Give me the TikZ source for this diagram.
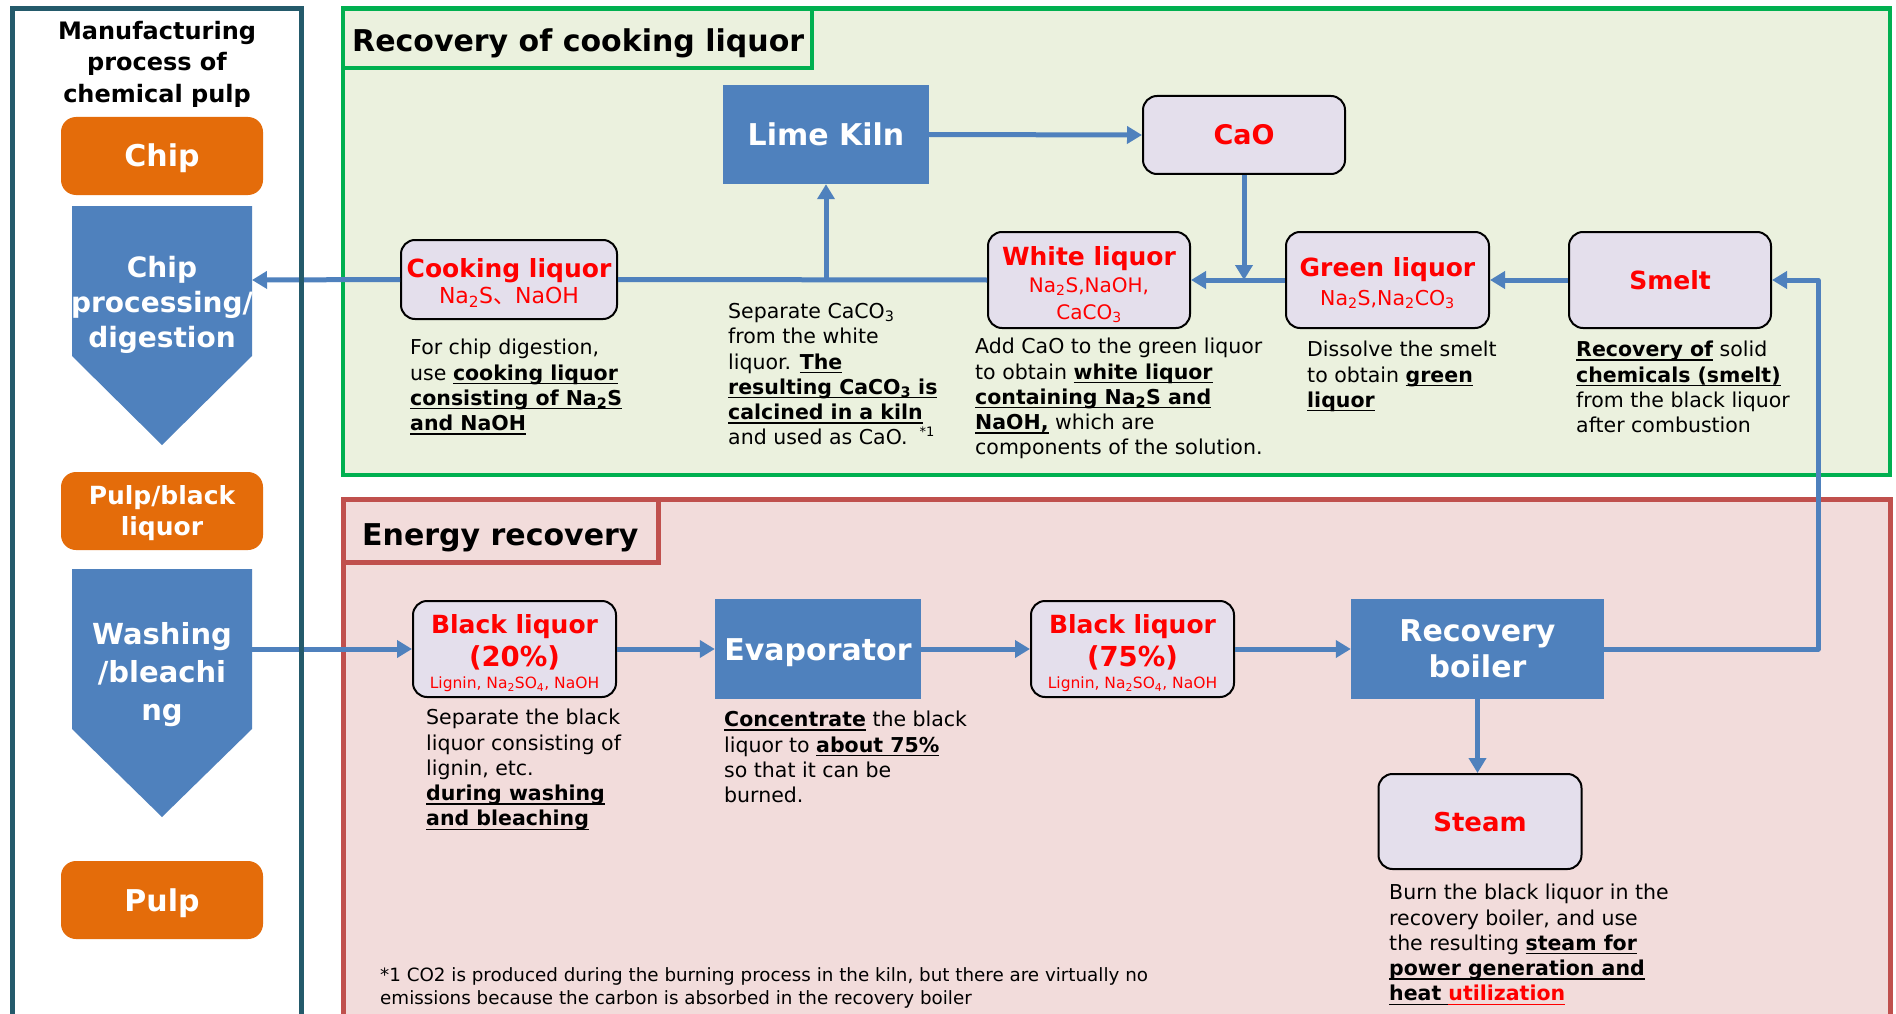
\documentclass[tikz,border=0pt]{standalone}
\usepackage{fontspec}
\setmainfont{DejaVu Sans}
\newfontfamily\cjkf{Noto Sans CJK JP}
\usetikzlibrary{arrows.meta}
\definecolor{blueA}{HTML}{4F81BD}
\definecolor{orangeA}{HTML}{E46C0A}
\definecolor{tealA}{HTML}{245A6B}
\definecolor{greenA}{HTML}{00B050}
\definecolor{greenF}{HTML}{EBF1DE}
\definecolor{redA}{HTML}{C0504D}
\definecolor{redF}{HTML}{F2DCDB}
\definecolor{lav}{HTML}{E4DFEC}
\definecolor{txtred}{HTML}{FF0000}
\newsavebox\ulbox
\newcommand\uln[1]{\sbox\ulbox{#1}\rlap{\rule[-4pt]{\wd\ulbox}{1.4pt}}\usebox\ulbox}
\newcommand\fsz[2]{\fontsize{#1}{#2}\selectfont}
\newcommand\sth[1]{\rule{0pt}{#1pt}}
\newcommand\std[1]{\rule[-#1pt]{0pt}{#1pt}}
\tikzset{
  ora/.style={fill=orangeA, rounded corners=15pt, minimum width=202pt, minimum height=78pt,
    text=white, font=\bfseries\fsz{30}{36}, align=center, inner sep=0pt},
  arrtxt/.style={text=white, align=center, inner sep=0pt},
  blu/.style={fill=blueA, text=white, font=\bfseries\fsz{30}{36}, align=center, inner sep=0pt,
    minimum height=100pt},
  liq/.style={draw=black, line width=2pt, fill=lav, rounded corners=14pt, text=txtred,
    align=center, inner sep=0pt, minimum width=202pt, minimum height=96pt, font=\fsz{25}{28}},
  desc/.style={anchor=north west, align=left, inner sep=0pt, font=\fsz{20.5}{25.3}, text=black},
  conn/.style={draw=blueA, line width=5pt, line join=round, -{Triangle[length=15pt,width=17pt]}},
  plainconn/.style={draw=blueA, line width=5pt},
  paneltitle/.style={anchor=base west, inner sep=0pt, font=\bfseries\fsz{30}{36}, text=black}
}
\begin{document}
\begin{tikzpicture}[x=1pt,y=-1pt]
\useasboundingbox (0,0) rectangle (1896,1014);
\clip (0,0) rectangle (1896,1014);
\fill[white] (0,0) rectangle (1896,1014);

% panels
\draw[greenA, line width=4.5pt, fill=greenF] (343,8.5) rectangle (1890,475);
\draw[greenA, line width=4.5pt] (343,8.5) rectangle (812,68);
\node[paneltitle] (ttlgreen) at (352,52) {Recovery of cooking liquor};
\draw[redA, line width=5pt, fill=redF] (343,499) rectangle (1890,1040);
\draw[redA, line width=5pt] (343,499) rectangle (658,562);
\node[paneltitle] (ttlred) at (362,545) {Energy recovery};

% left column
\node[anchor=north, align=center, inner sep=0pt, font=\bfseries\fsz{24}{31.5}] (ttlleft) at (157,21) {Manufacturing\\process of\\chemical pulp};
\node[ora, text height=22pt, text depth=0pt] (chip) at (162,156) {Chip};
\fill[blueA] (72,206) -- (252,206) -- (252,356) -- (162,445) -- (72,356) -- cycle;
\node[arrtxt, font=\bfseries\fsz{28}{35}] (chipproc) at (162,305) {Chip\\processing/\\digestion};
\node[ora, font=\bfseries\fsz{25}{31}] (pbl) at (162,511) {\sth{24}Pulp/black\\liquor\std{6}};
\fill[blueA] (72,569) -- (252,569) -- (252,729) -- (162,817) -- (72,729) -- cycle;
\node[arrtxt, font=\bfseries\fsz{29}{38}] (washing) at (162,675) {Washing\\/bleachi\\ng};
\node[ora, text height=22pt, text depth=0pt] (pulp) at (162,900) {Pulp};
\coordinate (chipR) at (252,280);
\coordinate (washR) at (252,649);

% cooking liquor recovery nodes
\node[blu, minimum width=206pt, minimum height=99pt, text height=22pt, text depth=0pt] (kiln) at (826,134.5) {Lime Kiln};
\node[liq, minimum height=78pt, font=\bfseries\fsz{27}{30}, text height=19.7pt, text depth=0pt] (cao) at (1244,135) {CaO};
\node[liq, minimum width=216pt, minimum height=79pt, font=\fsz{25}{26}] (cook) at (509,279.5)
  {\sth{27}{\bfseries Cooking liquor}\\{\fsz{22}{22}Na\textsubscript{2}S{\cjkf 、}NaOH}\std{6}};
\node[liq, font=\fsz{25}{27}] (white) at (1089,280)
  {\sth{31}{\bfseries White liquor}\\{\fsz{20}{22}Na\textsubscript{2}S,NaOH,}\\{\fsz{20}{22}CaCO\textsubscript{3}}\std{6}};
\node[liq, minimum width=203pt, font=\fsz{25}{28.5}] (green) at (1387.5,280)
  {\sth{27.5}{\bfseries Green liquor}\\{\fsz{20.5}{22}Na\textsubscript{2}S,Na\textsubscript{2}CO\textsubscript{3}}\std{6}};
\node[liq, font=\bfseries\fsz{25}{30}, text height=18.2pt, text depth=0pt] (smelt) at (1670,280) {Smelt};

% energy recovery nodes
\node[liq, minimum width=203pt, font=\fsz{25}{32.5}] (bl20) at (514.5,649)
  {\sth{29}{\bfseries Black liquor}\\{\bfseries\fsz{27.5}{30}(20\%)}\\[-10pt]{\fsz{15.5}{18}Lignin, Na\textsubscript{2}SO\textsubscript{4}, NaOH}\std{5}};
\node[blu, minimum width=206pt, text height=22pt, text depth=0pt] (evap) at (818,649) {Evaporator};
\node[liq, minimum width=203pt, font=\fsz{25}{32.5}] (bl75) at (1132.5,649)
  {\sth{29}{\bfseries Black liquor}\\{\bfseries\fsz{27.5}{30}(75\%)}\\[-10pt]{\fsz{15.5}{18}Lignin, Na\textsubscript{2}SO\textsubscript{4}, NaOH}\std{5}};
\node[blu, minimum width=253pt] (boiler) at (1477.5,649) {Recovery\\boiler};
\node[liq, minimum width=203pt, minimum height=95pt, font=\bfseries\fsz{26}{30}, text height=19pt, text depth=0pt] (steam) at (1480,821.5) {Steam};
\coordinate (jkiln) at (826,280);
\coordinate (jcao) at (1244,280);
\coordinate (r1) at (1818,649);
\coordinate (r2) at (1818,280);

% connectors
\draw[conn] (cook.west) -- (chipR);
\draw[plainconn] (cook.east) -- (white.west);
\draw[conn] (jkiln) -- (kiln.south);
\draw[conn] (kiln.east) -- (cao.west);
\draw[conn] (cao.south) -- (jcao);
\draw[conn] (green.west) -- (white.east);
\draw[conn] (smelt.west) -- (green.east);
\draw[conn] (washR) -- (bl20.west);
\draw[conn] (bl20.east) -- (evap.west);
\draw[conn] (evap.east) -- (bl75.west);
\draw[conn] (bl75.east) -- (boiler.west);
\draw[conn] (boiler.south) -- (boiler.south |- steam.north);
\draw[conn] (boiler.east) -- (r1) -- (r2) -- (smelt.east);

% descriptions
\node[desc] (dcook) at (410,339) {For chip digestion,\\use \uln{\textbf{cooking liquor}}\\\uln{\textbf{consisting of Na\textsubscript{2}S}}\\\uln{\textbf{and NaOH}}};
\node[desc] (dkiln) at (728,303) {Separate CaCO\textsubscript{3}\\from the white\\liquor. \uln{\textbf{The}}\\\uln{\textbf{resulting CaCO\textsubscript{3} is}}\\\uln{\textbf{calcined in a kiln}}\\and used as CaO.\hspace{12pt}\raisebox{8pt}{\fsz{13}{13}*1}};
\node[desc] (dwhite) at (975,338) {Add CaO to the green liquor\\to obtain \uln{\textbf{white liquor}}\\\uln{\textbf{containing Na\textsubscript{2}S and}}\\\uln{\textbf{NaOH,}} which are\\components of the solution.};
\node[desc] (dgreen) at (1307,341) {Dissolve the smelt\\to obtain \uln{\textbf{green}}\\\uln{\textbf{liquor}}};
\node[desc] (dsmelt) at (1576,341) {\uln{\textbf{Recovery of}} solid\\\uln{\textbf{chemicals (smelt)}}\\from the black liquor\\after combustion};
\node[desc] (dbl20) at (426,709) {Separate the black\\liquor consisting of\\lignin, etc.\\\uln{\textbf{during washing}}\\\uln{\textbf{and bleaching}}};
\node[desc] (devap) at (724,711) {\uln{\textbf{Concentrate}} the black\\liquor to \uln{\textbf{about 75\%}}\\so that it can be\\burned.};
\node[desc] (dsteam) at (1389,884) {Burn the black liquor in the\\recovery boiler, and use\\the resulting \uln{\textbf{steam for}}\\\uln{\textbf{power generation and}}\\\uln{\textbf{heat }}\textcolor{txtred}{\uln{\textbf{utilization}}}};
\node[desc, font=\fsz{18.3}{23}] (foot) at (380,967) {*1 CO2 is produced during the burning process in the kiln, but there are virtually no\\emissions because the carbon is absorbed in the recovery boiler};

% left panel border
\draw[tealA, line width=5pt] (12.5,8.5) rectangle (301,1040);
\end{tikzpicture}
\end{document}
